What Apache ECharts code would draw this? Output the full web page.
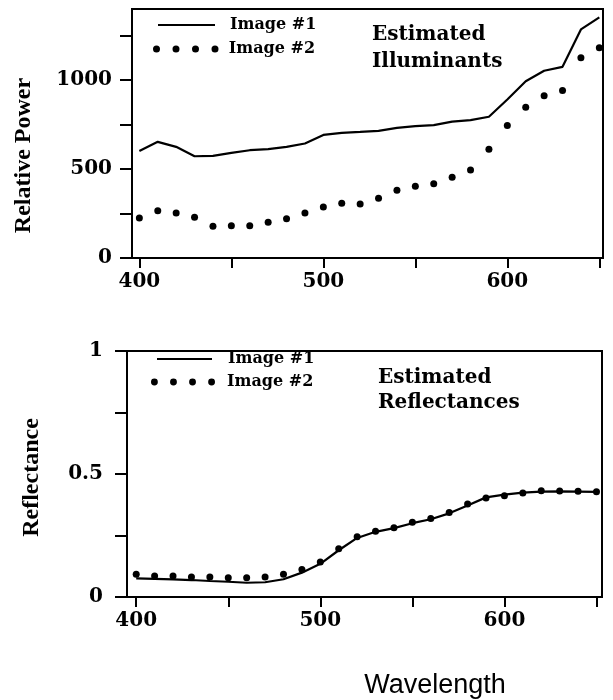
<!DOCTYPE html>
<html><head><meta charset="utf-8">
<script src="https://cdn.jsdelivr.net/npm/echarts@6/dist/echarts.min.js"></script>
<style>html,body{margin:0;padding:0;background:#fff}#c{width:613px;height:700px}</style>
</head><body><div id="c"></div>
<script>
const wavelengths = [400,410,420,430,440,450,460,470,480,490,500,510,520,530,540,550,560,570,580,590,600,610,620,630,640,650];
const illumImage1 = [602,653,625,572,574,591,606,612,625,644,692,704,709,715,732,741,747,767,775,794,891,994,1053,1075,1285,1353];
const illumImage2 = [225,265,253,229,178,182,182,201,220,253,287,308,304,336,381,403,418,454,495,612,745,848,912,942,1126,1182];
const reflImage1 = [0.076,0.074,0.072,0.069,0.065,0.062,0.058,0.060,0.072,0.099,0.135,0.190,0.240,0.265,0.280,0.300,0.316,0.340,0.372,0.405,0.416,0.424,0.428,0.429,0.428,0.427];
const reflImage2 = [0.092,0.085,0.085,0.081,0.081,0.078,0.078,0.081,0.092,0.112,0.142,0.196,0.245,0.267,0.281,0.304,0.319,0.344,0.378,0.402,0.412,0.423,0.432,0.431,0.430,0.428];
const xTicks = [400,450,500,550,600,650];
const xTickLabels = [400,500,600];
const illumYTicks = [0,250,500,750,1000,1250];
const illumYLabels = [0,500,1000];
const reflYTicks = [0,0.25,0.5,0.75,1];
const reflYLabels = [0,0.5,1];
const seriesNames = ['Image #1','Image #2'];
const titles = ['Estimated\nIlluminants','Estimated\nReflectances'];
const yNames = ['Relative Power','Reflectance'];
const xName = 'Wavelength';

const pairs = (ys) => wavelengths.map((w,i)=>[w, ys[i]]);
const serif = 'DejaVu Serif';
const labelStyle = {fontFamily: serif, fontWeight:'bold', fontSize:20, color:'#000', formatter:(v)=>String(v)};
const axisLine = {show:true, onZero:false, lineStyle:{color:'#000', width:2}};
const lineIcon = 'path://M0,0H57V2H0Z';
const dotsIcon = 'path://M0,3.5a3.5,3.5 0 1,0 7,0a3.5,3.5 0 1,0 -7,0Z' +
  'M19.5,3.5a3.5,3.5 0 1,0 7,0a3.5,3.5 0 1,0 -7,0Z' +
  'M39,3.5a3.5,3.5 0 1,0 7,0a3.5,3.5 0 1,0 -7,0Z' +
  'M58.5,3.5a3.5,3.5 0 1,0 7,0a3.5,3.5 0 1,0 -7,0Z';
const legendText = (pad) => ({fontFamily: serif, fontWeight:'bold', fontSize:16, color:'#000', padding:[0,0,0,pad]});

const chart = echarts.init(document.getElementById('c'), null, {renderer:'canvas'});
chart.setOption({
  animation:false,
  backgroundColor:'#fff',
  title:[
    {text:titles[0], left:372, top:21, padding:0, textStyle:{fontFamily:serif, fontWeight:'bold', fontSize:20, lineHeight:27, color:'#000'}},
    {text:titles[1], left:378, top:365, padding:0, textStyle:{fontFamily:serif, fontWeight:'bold', fontSize:20, lineHeight:25, color:'#000'}}
  ],
  legend:[
    {data:[seriesNames[0]], left:158, top:17, icon:lineIcon, itemWidth:57, itemHeight:2, selectedMode:false, padding:0, textStyle:legendText(10), itemStyle:{color:'#000'}},
    {data:[seriesNames[1]], left:153, top:41, icon:dotsIcon, itemWidth:66, itemHeight:7, selectedMode:false, padding:0, textStyle:legendText(5), itemStyle:{color:'#000', opacity:1}},
    {data:[seriesNames[0]], left:157, top:351, icon:lineIcon, itemWidth:55, itemHeight:2, selectedMode:false, padding:0, textStyle:legendText(11), itemStyle:{color:'#000'}},
    {data:[seriesNames[1]], left:151, top:374, icon:dotsIcon, itemWidth:64, itemHeight:7, selectedMode:false, padding:0, textStyle:legendText(7), itemStyle:{color:'#000', opacity:1}}
  ],
  grid:[
    {left:132, right:10, top:9, height:249, show:true, borderColor:'#000', borderWidth:2, backgroundColor:'transparent'},
    {left:127, right:11, top:351, height:247, show:true, borderColor:'#000', borderWidth:2, backgroundColor:'transparent'}
  ],
  xAxis:[
    {type:'value', gridIndex:0, min:396, max:652, axisLine:axisLine, splitLine:{show:false},
     axisTick:{show:true, length:10, customValues:xTicks, lineStyle:{color:'#000', width:2}},
     axisLabel:{customValues:xTickLabels, margin:14, ...labelStyle}},
    {type:'value', gridIndex:1, min:395, max:653, axisLine:axisLine, splitLine:{show:false},
     axisTick:{show:true, length:10, customValues:xTicks, lineStyle:{color:'#000', width:2}},
     axisLabel:{customValues:xTickLabels, margin:14, ...labelStyle},
     name:xName, nameLocation:'middle', nameGap:75,
     nameTextStyle:{fontFamily:'Liberation Sans', fontSize:27, color:'#000', padding:[0,0,0,141]}}
  ],
  yAxis:[
    {type:'value', gridIndex:0, min:0, max:1400, axisLine:axisLine, splitLine:{show:false},
     axisTick:{show:true, length:12, customValues:illumYTicks, lineStyle:{color:'#000', width:2}},
     axisLabel:{customValues:illumYLabels, margin:20, ...labelStyle},
     name:yNames[0], nameLocation:'middle', nameGap:96, nameRotate:90,
     nameTextStyle:{fontFamily:'Liberation Serif', fontWeight:'bold', fontSize:24, color:'#000', padding:[0,44,0,0]}},
    {type:'value', gridIndex:1, min:0, max:1, axisLine:axisLine, splitLine:{show:false},
     axisTick:{show:true, length:12, customValues:reflYTicks, lineStyle:{color:'#000', width:2}},
     axisLabel:{customValues:reflYLabels, margin:24, ...labelStyle},
     name:yNames[1], nameLocation:'middle', nameGap:83, nameRotate:90,
     nameTextStyle:{fontFamily:'Liberation Serif', fontWeight:'bold', fontSize:24, color:'#000', padding:[0,7,0,0]}}
  ],
  series:[
    {type:'line', name:seriesNames[0], xAxisIndex:0, yAxisIndex:0, data:pairs(illumImage1), symbol:'none', lineStyle:{color:'#000', width:2.2}, itemStyle:{color:'#000'}},
    {type:'scatter', name:seriesNames[1], xAxisIndex:0, yAxisIndex:0, data:pairs(illumImage2), symbolSize:7, itemStyle:{color:'#000', opacity:1}},
    {type:'line', name:seriesNames[0], xAxisIndex:1, yAxisIndex:1, data:pairs(reflImage1), symbol:'none', lineStyle:{color:'#000', width:2.2}, itemStyle:{color:'#000'}},
    {type:'scatter', name:seriesNames[1], xAxisIndex:1, yAxisIndex:1, data:pairs(reflImage2), symbolSize:7, itemStyle:{color:'#000', opacity:1}}
  ]
});
</script></body></html>
